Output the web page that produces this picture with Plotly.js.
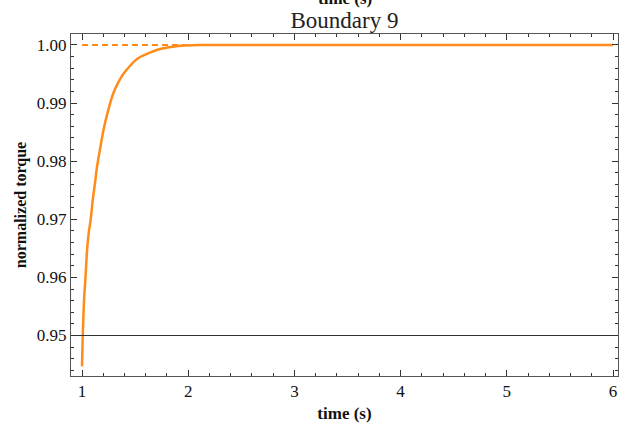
<!DOCTYPE html>
<html>
<head>
<meta charset="utf-8">
<script src="https://cdn.plot.ly/plotly-3.0.1.min.js"></script>
<style>html,body{margin:0;padding:0;background:#fff;}#chart{width:620px;height:428px;}</style>
</head>
<body>
<div id="chart"></div>
<script>
// Data
const timeS = [1.000, 1.007, 1.019, 1.033, 1.047, 1.063, 1.082, 1.101, 1.122, 1.141, 1.169, 1.198, 1.233, 1.295, 1.389, 1.518, 1.640, 1.734, 1.856, 1.969, 2.11, 2.5, 3, 4, 5, 6];
const torque = [0.9447, 0.9500, 0.9560, 0.9600, 0.9645, 0.9676, 0.9700, 0.9733, 0.9762, 0.9790, 0.9820, 0.9850, 0.9878, 0.9917, 0.9950, 0.9976, 0.9987, 0.9993, 0.9997, 0.9999, 1.0000, 1.0000, 1.0000, 1.0000, 1.0000, 1.0000];
const refTime = [1, 6];
const refTorque = [1.0, 1.0];
const limitTorque = 0.95;
const xTicks = [1, 2, 3, 4, 5, 6];
const yTicks = [0.95, 0.96, 0.97, 0.98, 0.99, 1.00];
const titleText = 'Boundary 9';
const xTitle = 'time (s)';
const yTitle = 'normalized torque';

const serif = '"Liberation Serif", "Times New Roman", Times, serif';
const orange = '#ff8c1a';

const traces = [
  {x: refTime, y: refTorque, mode: 'lines', line: {color: orange, width: 2, dash: '6px,4px'}, hoverinfo: 'skip'},
  {x: timeS, y: torque, mode: 'lines', line: {color: orange, width: 2.5, shape: 'spline', smoothing: 0.7}}
];

const axisCommon = {
  showline: true, linecolor: '#555', linewidth: 1, mirror: 'ticks',
  ticks: 'inside', ticklen: 6, tickcolor: '#333', tickwidth: 1,
  showgrid: false, zeroline: false,
  tickfont: {family: serif, size: 17, color: '#111'}
};

const layout = {
  width: 620, height: 428,
  margin: {l: 71, r: 2, t: 34, b: 52},
  paper_bgcolor: '#fff', plot_bgcolor: '#fff',
  showlegend: false,
  font: {family: serif},
  title: {text: titleText, font: {family: serif, size: 23, color: '#222'}, x: 0.5, xref: 'paper', y: 1 - 20/428, yref: 'container', yanchor: 'middle'},
  xaxis: Object.assign({}, axisCommon, {
    range: [0.8964, 6.047], tickvals: xTicks, ticktext: xTicks.map(String),
    minor: {dtick: 0.2, tick0: 0, ticks: 'inside', ticklen: 3, tickcolor: '#333'},
    title: {text: xTitle, font: {family: serif, size: 17, color: '#111', weight: 'bold'}, standoff: 6}
  }),
  yaxis: Object.assign({}, axisCommon, {
    range: [0.94303, 1.00189], tickvals: yTicks, ticktext: yTicks.map(v => v.toFixed(2)),
    minor: {dtick: 0.002, tick0: 0.95, ticks: 'inside', ticklen: 3, tickcolor: '#333'},
    title: {text: yTitle, font: {family: serif, size: 16, color: '#111', weight: 'bold'}, standoff: 6}
  }),
  shapes: [
    {type: 'line', xref: 'paper', x0: 0, x1: 1, yref: 'y', y0: limitTorque, y1: limitTorque, line: {color: '#333', width: 1}}
  ],
  annotations: [
    {text: '<b>' + xTitle + '</b>', xref: 'paper', yref: 'paper', x: 0.5, y: 1, yanchor: 'middle', yshift: 36, showarrow: false, font: {family: serif, size: 17, color: '#111'}}
  ]
};

Plotly.newPlot('chart', traces, layout, {displayModeBar: false, staticPlot: true});
</script>
</body>
</html>
